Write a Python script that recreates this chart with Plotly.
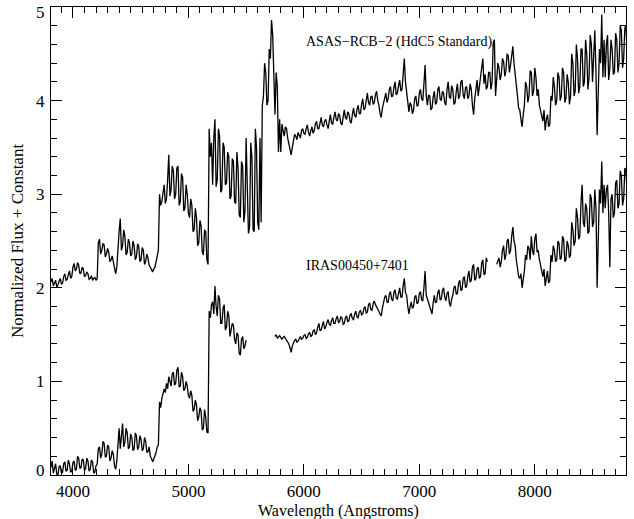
import plotly.graph_objects as go

# Wavelength grid (Angstroms), 10 A sampling; each row below spans 200 A
wave = list(range(3810, 8810, 10))

# ASAS-RCB-2 (HdC5 Standard), normalized flux + constant
flux_asas = [
    2.06, 2.10, 2.02, 2.05, 2.08, 2.01, 2.03, 2.07, 2.10, 2.04, 2.05, 2.12, 2.15, 2.08, 2.09, 2.14, 2.18, 2.10, 2.12, 2.22,
    2.26, 2.18, 2.20, 2.27, 2.24, 2.15, 2.16, 2.22, 2.20, 2.12, 2.13, 2.17, 2.15, 2.09, 2.10, 2.13, 2.08, 2.10, 2.11, 2.08,
    2.10, 2.48, 2.52, 2.36, 2.40, 2.47, 2.46, 2.33, 2.36, 2.42, 2.38, 2.28, 2.30, 2.34, 2.26, 2.20, 2.15, 2.22, 2.50, 2.60,
    2.74, 2.40, 2.45, 2.62, 2.55, 2.35, 2.38, 2.52, 2.48, 2.34, 2.36, 2.50, 2.45, 2.30, 2.33, 2.47, 2.44, 2.28, 2.30, 2.43,
    2.40, 2.25, 2.28, 2.36, 2.32, 2.24, 2.22, 2.19, 2.17, 2.20, 2.22, 2.28, 2.36, 2.40, 3.00, 2.88, 2.92, 3.05, 3.10, 2.90,
    2.95, 3.15, 3.42, 2.98, 3.05, 3.30, 3.25, 2.95, 3.00, 3.28, 3.30, 2.88, 2.92, 3.22, 3.18, 2.82, 2.85, 3.10, 3.00, 2.80,
    2.75, 2.95, 2.88, 2.60, 2.62, 2.85, 2.75, 2.45, 2.48, 2.72, 2.66, 2.38, 2.35, 2.62, 2.60, 2.30, 2.25, 3.70, 3.40, 3.55,
    3.10, 3.60, 3.80, 3.08, 3.15, 3.70, 3.62, 3.02, 3.05, 3.55, 3.50, 3.10, 3.12, 3.45, 3.40, 2.95, 2.98, 3.38, 3.35, 2.92,
    2.90, 3.45, 3.28, 2.78, 2.75, 3.35, 3.30, 2.70, 2.82, 3.60, 3.20, 2.58, 2.65, 3.55, 3.40, 2.62, 2.60, 3.70, 3.50, 2.70,
    2.62, 3.60, 2.70, 3.95, 4.05, 4.40, 4.30, 3.95, 4.00, 4.55, 4.45, 4.86, 4.70, 4.10, 3.85, 4.30, 4.15, 3.45, 3.80, 3.45,
    3.75, 3.68, 3.62, 3.72, 3.70, 3.60, 3.55, 3.48, 3.42, 3.50, 3.58, 3.64, 3.62, 3.58, 3.66, 3.63, 3.60, 3.68, 3.70, 3.65,
    3.64, 3.70, 3.74, 3.66, 3.62, 3.68, 3.72, 3.65, 3.68, 3.75, 3.78, 3.70, 3.70, 3.76, 3.82, 3.74, 3.72, 3.78, 3.80, 3.74,
    3.70, 3.78, 3.85, 3.76, 3.75, 3.82, 3.88, 3.80, 3.78, 3.86, 3.84, 3.76, 3.74, 3.82, 3.90, 3.82, 3.80, 3.88, 3.86, 3.78,
    3.76, 3.85, 3.92, 3.84, 3.82, 3.90, 3.95, 3.86, 3.86, 3.96, 4.02, 3.90, 3.92, 4.00, 4.08, 3.98, 3.95, 4.04, 4.05, 3.96,
    3.98, 4.06, 4.10, 4.00, 3.95, 3.86, 3.82, 3.92, 3.98, 4.04, 4.08, 3.98, 4.02, 4.12, 4.15, 4.04, 4.05, 4.14, 4.20, 4.06,
    4.08, 4.16, 4.22, 4.10, 4.12, 4.28, 4.45, 4.20, 4.10, 3.96, 3.88, 3.98, 3.95, 3.86, 3.90, 4.02, 4.05, 3.94, 3.95, 4.08,
    4.12, 4.02, 4.00, 4.18, 4.38, 4.05, 3.95, 4.06, 4.05, 3.90, 3.92, 4.04, 4.10, 3.96, 3.98, 4.12, 4.15, 4.02, 4.00, 4.10,
    4.08, 3.98, 3.95, 4.12, 4.20, 4.04, 4.02, 4.16, 4.12, 3.96, 3.98, 4.10, 4.18, 4.02, 4.05, 4.20, 4.22, 4.06, 4.02, 4.14,
    4.15, 4.02, 4.05, 4.18, 4.12, 3.95, 3.85, 4.02, 4.10, 4.22, 4.05, 4.15, 4.20, 4.32, 4.45, 4.18, 4.28, 4.12, 4.15, 4.30,
    4.30, 4.12, 4.20, 4.62, 4.65, 4.05, 4.25, 4.40, 4.35, 4.22, 4.28, 4.45, 4.42, 4.26, 4.32, 4.50, 4.48, 4.30, 4.38, 4.52,
    4.58, 4.40, 4.30, 4.15, 4.05, 3.92, 3.90, 3.80, 3.72, 3.85, 3.95, 4.20, 4.15, 3.98, 4.05, 4.32, 4.30, 4.05, 4.10, 4.35,
    4.25, 4.05, 4.12, 3.95, 3.90, 3.82, 3.78, 3.90, 3.68, 3.80, 3.85, 3.72, 3.75, 4.05, 4.00, 4.25, 4.15, 3.95, 4.00, 4.30,
    4.25, 4.00, 4.05, 4.35, 4.30, 3.98, 4.02, 4.28, 4.20, 3.96, 4.05, 4.50, 4.40, 4.05, 4.10, 4.60, 4.45, 4.08, 4.15, 4.55,
    4.55, 4.15, 4.20, 4.65, 4.50, 4.12, 4.25, 4.70, 4.60, 4.20, 4.45, 4.75, 4.30, 3.63, 4.10, 4.55, 4.40, 4.92, 4.25, 4.65,
    4.25, 4.60, 4.70, 4.22, 4.35, 4.65, 4.55, 4.28, 4.30, 4.72, 4.65, 4.30, 4.40, 4.80, 4.75, 4.35, 4.45, 4.78, 4.80, 4.50,
]

# IRAS00450+7401, normalized flux + constant (None = no data)
flux_iras = [
    0.08, 0.15, 0.02, 0.06, 0.12, 0.01, 0.00, 0.09, 0.10, 0.02, 0.03, 0.12, 0.14, 0.04, 0.05, 0.16, 0.12, 0.03, 0.04, 0.13,
    0.15, 0.05, 0.06, 0.20, 0.18, 0.07, 0.08, 0.17, 0.16, 0.05, 0.07, 0.18, 0.15, 0.04, 0.06, 0.16, 0.14, 0.02, 0.03, 0.10,
    0.12, 0.28, 0.30, 0.18, 0.22, 0.36, 0.34, 0.19, 0.20, 0.32, 0.30, 0.15, 0.18, 0.26, 0.22, 0.10, 0.06, 0.15, 0.38, 0.50,
    0.28, 0.45, 0.55, 0.30, 0.35, 0.50, 0.45, 0.28, 0.30, 0.44, 0.40, 0.26, 0.28, 0.45, 0.42, 0.27, 0.30, 0.42, 0.38, 0.26,
    0.28, 0.40, 0.36, 0.24, 0.25, 0.30, 0.20, 0.18, 0.14, 0.17, 0.20, 0.24, 0.30, 0.32, 0.78, 0.72, 0.82, 0.86, 0.92, 0.88,
    0.98, 0.92, 1.05, 1.00, 0.95, 1.08, 1.10, 0.96, 0.98, 1.12, 1.15, 0.94, 0.95, 1.10, 1.05, 0.90, 0.92, 1.00, 0.95, 0.85,
    0.82, 0.90, 0.85, 0.68, 0.70, 0.80, 0.75, 0.58, 0.62, 0.72, 0.68, 0.48, 0.50, 0.70, 0.62, 0.46, 0.45, 1.75, 1.68, 1.82,
    1.85, 1.72, 2.02, 1.80, 1.70, 1.92, 1.88, 1.62, 1.62, 1.78, 1.82, 1.55, 1.58, 1.75, 1.70, 1.48, 1.55, 1.62, 1.60, 1.45,
    1.40, 1.52, 1.50, 1.30, 1.28, 1.45, 1.48, 1.35, 1.38, 1.44, None, None, None, None, None, None, None, None, None, None,
    None, None, None, None, None, None, None, None, None, None, None, None, None, None, 1.48, 1.50, 1.46, 1.47, 1.49, 1.47,
    1.45, 1.47, 1.48, 1.46, 1.44, 1.43, 1.40, 1.36, 1.31, 1.38, 1.42, 1.44, 1.45, 1.42, 1.43, 1.46, 1.48, 1.45, 1.46, 1.49,
    1.50, 1.46, 1.47, 1.51, 1.52, 1.48, 1.49, 1.54, 1.55, 1.50, 1.52, 1.58, 1.62, 1.54, 1.55, 1.60, 1.64, 1.56, 1.58, 1.63,
    1.66, 1.61, 1.60, 1.65, 1.68, 1.62, 1.62, 1.67, 1.70, 1.63, 1.64, 1.69, 1.68, 1.61, 1.62, 1.68, 1.70, 1.64, 1.65, 1.71,
    1.72, 1.67, 1.66, 1.72, 1.75, 1.69, 1.68, 1.74, 1.76, 1.71, 1.72, 1.78, 1.80, 1.73, 1.74, 1.82, 1.84, 1.77, 1.76, 1.83,
    1.86, 1.82, 1.80, 1.78, 1.75, 1.72, 1.70, 1.78, 1.85, 1.90, 1.92, 1.85, 1.84, 1.93, 1.96, 1.88, 1.86, 1.95, 1.98, 1.89,
    1.88, 1.95, 2.00, 1.90, 1.90, 2.02, 2.10, 1.95, 1.92, 1.80, 1.72, 1.80, 1.85, 1.78, 1.80, 1.90, 1.92, 1.83, 1.84, 1.94,
    1.96, 1.87, 1.86, 2.00, 2.18, 1.92, 1.88, 1.84, 1.80, 1.76, 1.72, 1.84, 1.92, 1.84, 1.85, 1.95, 1.98, 1.87, 1.88, 1.97,
    2.00, 1.90, 1.86, 1.94, 1.96, 1.84, 1.80, 1.88, 1.92, 2.00, 2.02, 1.93, 1.94, 2.05, 2.08, 1.97, 1.98, 2.10, 2.12, 2.00,
    2.02, 2.12, 2.18, 2.06, 2.08, 2.22, 2.25, 2.08, 2.10, 2.20, 2.22, 2.10, 2.12, 2.26, 2.30, 2.14, 2.15, 2.32, 2.28, None,
    None, None, None, None, None, None, 2.25, 2.30, 2.32, 2.22, 2.28, 2.40, 2.45, 2.30, 2.35, 2.50, 2.52, 2.36, 2.40, 2.55,
    2.65, 2.50, 2.45, 2.30, 2.20, 2.12, 2.10, 2.15, 2.00, 2.10, 2.18, 2.35, 2.30, 2.45, 2.42, 2.30, 2.55, 2.40, 2.35, 2.52,
    2.58, 2.38, 2.40, 2.30, 2.25, 2.18, 2.12, 2.20, 2.02, 2.10, 2.18, 2.05, 2.08, 2.35, 2.28, 2.45, 2.40, 2.28, 2.30, 2.50,
    2.48, 2.30, 2.32, 2.55, 2.52, 2.28, 2.30, 2.50, 2.45, 2.32, 2.35, 2.70, 2.62, 2.45, 2.50, 2.85, 2.75, 2.52, 2.55, 2.90,
    3.10, 2.70, 2.65, 2.90, 2.85, 2.58, 2.60, 3.00, 2.95, 2.65, 2.70, 3.05, 2.85, 2.00, 2.75, 3.05, 2.90, 3.35, 2.80, 3.10,
    2.85, 3.05, 3.10, 2.80, 2.22, 2.95, 3.00, 2.75, 2.80, 3.12, 3.15, 2.85, 2.90, 3.25, 3.20, 2.88, 2.95, 3.28, 3.25, 3.00,
]

labels = ["ASAS\u2212RCB\u22122 (HdC5 Standard)", "IRAS00450+7401"]
label_x = [6000, 6000]
label_y = [4.63, 2.24]

x_ticks = [4000, 5000, 6000, 7000, 8000]
y_ticks = [0, 1, 2, 3, 4, 5]
y_ticktext = ["", "1", "2", "3", "4", ""]   # end labels drawn as annotations below
y_end_labels = [("0", 0, 5), ("5", 5, -5)]   # (text, value, vertical nudge px)

FONT = "Liberation Serif"

fig = go.Figure()
for flux in (flux_asas, flux_iras):
    fig.add_trace(go.Scatter(x=wave, y=flux, mode="lines",
                             line=dict(color="black", width=1.3),
                             connectgaps=False, showlegend=False,
                             hoverinfo="skip"))

for t, x, y in zip(labels, label_x, label_y):
    fig.add_annotation(x=x, y=y, xref="x", yref="y", text=t, showarrow=False,
                       xanchor="left", yanchor="middle",
                       font=dict(family=FONT, size=14, color="black"))

for t, v, dy in y_end_labels:
    fig.add_annotation(x=0, y=v, xref="paper", yref="y", text=t,
                       showarrow=False, xanchor="right", yanchor="middle",
                       xshift=-4, yshift=dy,
                       font=dict(family=FONT, size=17, color="black"))

fig.add_annotation(x=0.5, y=-0.077, xref="paper", yref="paper",
                   text="Wavelength (Angstroms)", showarrow=False,
                   xanchor="center", yanchor="middle",
                   font=dict(family=FONT, size=16, color="black"))
fig.add_annotation(x=-0.059, y=0.5, xref="paper", yref="paper",
                   text="Normalized Flux + Constant", showarrow=False,
                   textangle=-90, xanchor="center", yanchor="middle",
                   font=dict(family=FONT, size=17, color="black"))

axis_common = dict(showline=True, linecolor="black", linewidth=1,
                   mirror="ticks", ticks="inside", tickcolor="black",
                   tickwidth=1, showgrid=False, zeroline=False,
                   automargin=False, tickmode="array",
                   tickfont=dict(family=FONT, size=17, color="black"))

fig.update_xaxes(range=[3810, 8790], tickvals=x_ticks, ticklen=11,
                 minor=dict(dtick=100, tick0=4000, ticklen=6, ticks="inside",
                            tickcolor="black", showgrid=False),
                 ticklabelstandoff=1, **axis_common)
fig.update_yaxes(range=[0, 5], tickvals=y_ticks, ticktext=y_ticktext,
                 ticklen=11,
                 minor=dict(dtick=0.2, tick0=0, ticklen=6, ticks="inside",
                            tickcolor="black", showgrid=False),
                 ticklabelstandoff=2, **axis_common)

fig.update_layout(width=634, height=519,
                  margin=dict(l=51, r=8, t=7, b=44),
                  paper_bgcolor="white", plot_bgcolor="white",
                  font=dict(family=FONT, color="black"))

fig.write_html("out.html", config={"displayModeBar": False},
               post_script="document.body.style.margin='0';")
